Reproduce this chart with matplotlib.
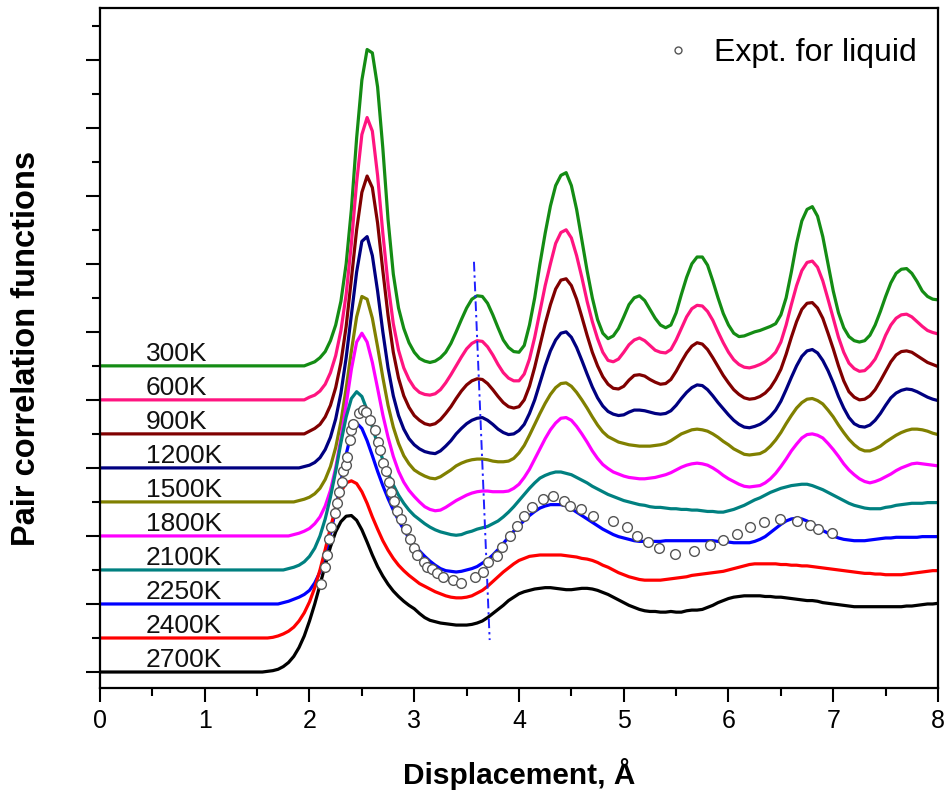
import matplotlib
matplotlib.use("Agg")
import matplotlib.pyplot as plt
from matplotlib.lines import Line2D
from matplotlib.ticker import MultipleLocator
import numpy as np

plt.rcParams['font.family'] = ['Liberation Sans', 'DejaVu Sans']

# r sampling: origin, then 1.50 ... 8.00 Angstrom every 0.05
r = [0.0] + [round(1.5 + 0.05 * i, 2) for i in range(131)]

temperatures = ['300K', '600K', '900K', '1200K', '1500K',
                '1800K', '2100K', '2250K', '2400K', '2700K']
offsets = [4.5, 4.0, 3.5, 3.0, 2.5, 2.0, 1.5, 1.0, 0.5, 0.0]
colors = ['#148c14', '#ff1480', '#800000', '#000080', '#808000',
          '#ff00ff', '#008080', '#0000ff', '#ff0000', '#000000']

# g(r) for each temperature: value at r=0, then 1.50-3.00, then 3.05-8.00
g_300 = ([0] + [0] * 10 +
         [0.03, 0.06, 0.12, 0.21, 0.37, 0.6, 0.95, 1.5, 2.3, 3.35,
          4.2, 4.65, 4.6, 4.1, 3.2, 2.15, 1.35, 0.85, 0.55, 0.34, 0.2] +
         [0.11, 0.07, 0.05, 0.07, 0.12, 0.2, 0.33, 0.5, 0.68, 0.85,
          0.98, 1.03, 1.02, 0.92, 0.75, 0.56, 0.38, 0.27, 0.21, 0.2,
          0.3, 0.6, 1.0, 1.5, 1.95, 2.35, 2.65, 2.8, 2.84, 2.65,
          2.3, 1.85, 1.4, 1.0, 0.68, 0.48, 0.4, 0.44, 0.55, 0.72,
          0.9, 1.0, 1.03, 0.96, 0.83, 0.7, 0.6, 0.56, 0.6, 0.78,
          1.05, 1.3, 1.5, 1.6, 1.6, 1.48, 1.25, 1.0, 0.77, 0.6,
          0.48, 0.43, 0.44, 0.47, 0.5, 0.52, 0.55, 0.58, 0.62, 0.75,
          1.0, 1.38, 1.8, 2.13, 2.3, 2.34, 2.2, 1.9, 1.5, 1.1,
          0.78, 0.56, 0.43, 0.37, 0.35, 0.37, 0.45, 0.6, 0.8, 1.02,
          1.22, 1.36, 1.42, 1.43, 1.36, 1.24, 1.1, 1.02, 0.98, 0.97])
g_600 = ([0] + [0] * 10 +
         [0.04, 0.07, 0.13, 0.23, 0.4, 0.65, 1.02, 1.55, 2.3, 3.2,
          3.9, 4.15, 3.95, 3.3, 2.45, 1.7, 1.12, 0.73, 0.47, 0.3, 0.18] +
         [0.11, 0.08, 0.07, 0.09, 0.15, 0.25, 0.37, 0.5, 0.63, 0.75,
          0.83, 0.87, 0.86, 0.78, 0.66, 0.52, 0.4, 0.32, 0.28, 0.28,
          0.38, 0.6, 0.92, 1.3, 1.68, 2.0, 2.3, 2.46, 2.5, 2.38,
          2.12, 1.8, 1.45, 1.15, 0.9, 0.7, 0.58, 0.56, 0.6, 0.7,
          0.81, 0.88, 0.91, 0.87, 0.8, 0.73, 0.7, 0.69, 0.74, 0.88,
          1.05, 1.22, 1.34, 1.39, 1.38, 1.3, 1.17, 1.0, 0.84, 0.7,
          0.59, 0.52, 0.48, 0.47, 0.49, 0.52, 0.56, 0.62, 0.7, 0.85,
          1.1, 1.4, 1.68, 1.9, 2.02, 2.04, 1.95, 1.75, 1.48, 1.2,
          0.92, 0.7, 0.54, 0.46, 0.42, 0.43, 0.5, 0.6, 0.76, 0.95,
          1.1, 1.2, 1.25, 1.26, 1.22, 1.15, 1.08, 1.02, 0.99, 0.97])
g_900 = ([0] + [0] * 10 +
         [0.04, 0.08, 0.14, 0.25, 0.42, 0.68, 1.05, 1.58, 2.28, 3.0,
          3.55, 3.79, 3.62, 3.1, 2.4, 1.74, 1.2, 0.82, 0.56, 0.39, 0.27] +
         [0.2, 0.15, 0.13, 0.15, 0.21, 0.3, 0.4, 0.52, 0.63, 0.72,
          0.78, 0.81, 0.8, 0.74, 0.65, 0.55, 0.46, 0.4, 0.38, 0.4,
          0.5, 0.7, 0.98, 1.3, 1.62, 1.9, 2.13, 2.26, 2.28, 2.18,
          1.98, 1.72, 1.45, 1.2, 1.0, 0.84, 0.73, 0.67, 0.66, 0.7,
          0.79, 0.86, 0.87, 0.85, 0.8, 0.76, 0.73, 0.74, 0.8, 0.92,
          1.06, 1.19, 1.29, 1.34, 1.32, 1.24, 1.12, 0.99, 0.86, 0.75,
          0.65, 0.58, 0.53, 0.51, 0.52, 0.55, 0.6, 0.68, 0.8, 0.95,
          1.17, 1.42, 1.65, 1.83, 1.92, 1.93, 1.85, 1.7, 1.48, 1.25,
          1.0, 0.78, 0.62, 0.54, 0.5, 0.51, 0.56, 0.65, 0.78, 0.92,
          1.06, 1.16, 1.21, 1.22, 1.2, 1.15, 1.1, 1.05, 1.02, 0.99])
g_1200 = ([0] + [0] * 9 + [0.02] +
          [0.04, 0.08, 0.15, 0.27, 0.45, 0.72, 1.1, 1.62, 2.25, 2.88,
           3.33, 3.4, 3.12, 2.6, 2.0, 1.47, 1.06, 0.77, 0.57, 0.43, 0.34] +
          [0.28, 0.24, 0.22, 0.21, 0.25, 0.32, 0.4, 0.5, 0.58, 0.65,
           0.7, 0.73, 0.74, 0.7, 0.64, 0.57, 0.52, 0.49, 0.5, 0.55,
           0.64, 0.8, 1.0, 1.25, 1.5, 1.72, 1.88, 1.98, 2.0, 1.92,
           1.77, 1.58, 1.38, 1.19, 1.03, 0.91, 0.83, 0.79, 0.77, 0.78,
           0.82, 0.85, 0.85, 0.84, 0.82, 0.8, 0.79, 0.8, 0.84, 0.92,
           1.02, 1.11, 1.18, 1.22, 1.21, 1.15, 1.06, 0.96, 0.87, 0.78,
           0.7, 0.64, 0.6, 0.59, 0.61, 0.64, 0.69, 0.76, 0.85, 0.98,
           1.15, 1.33, 1.5, 1.64, 1.72, 1.74, 1.69, 1.58, 1.43, 1.25,
           1.05, 0.88, 0.74, 0.65, 0.61, 0.6, 0.63, 0.7, 0.8, 0.92,
           1.03, 1.1, 1.14, 1.16, 1.15, 1.12, 1.08, 1.04, 1.01, 0.99])
g_1500 = ([0] + [0] * 8 + [0.02, 0.04] +
          [0.07, 0.12, 0.2, 0.33, 0.52, 0.8, 1.18, 1.67, 2.22, 2.72,
           3.02, 2.98, 2.7, 2.28, 1.83, 1.42, 1.1, 0.86, 0.68, 0.56, 0.47] +
          [0.42, 0.38, 0.35, 0.34, 0.37, 0.42, 0.47, 0.53, 0.57, 0.6,
           0.62, 0.63, 0.63, 0.62, 0.6, 0.59, 0.59, 0.6, 0.64, 0.72,
           0.83, 0.98, 1.14, 1.3, 1.45, 1.58, 1.68, 1.74, 1.75, 1.7,
           1.61, 1.5, 1.38, 1.25, 1.13, 1.03, 0.96, 0.92, 0.88, 0.86,
           0.84, 0.83, 0.82, 0.82, 0.82, 0.83, 0.84, 0.86, 0.9, 0.95,
           1.0, 1.03, 1.06, 1.07, 1.06, 1.04, 1.0, 0.95, 0.89, 0.84,
           0.78, 0.74, 0.7, 0.69, 0.7, 0.71, 0.75, 0.82, 0.91, 1.02,
           1.15, 1.27, 1.38, 1.46, 1.51, 1.52, 1.49, 1.44, 1.35, 1.25,
           1.13, 1.02, 0.92, 0.84, 0.78, 0.75, 0.75, 0.78, 0.82, 0.88,
           0.93, 0.98, 1.02, 1.05, 1.07, 1.07, 1.06, 1.04, 1.01, 0.99])
g_1800 = ([0] + [0] * 7 + [0.02, 0.04, 0.07] +
          [0.11, 0.18, 0.28, 0.44, 0.67, 1.0, 1.43, 1.93, 2.45, 2.85,
           2.98, 2.85, 2.55, 2.17, 1.78, 1.45, 1.17, 0.95, 0.79, 0.67, 0.58] +
          [0.5, 0.43, 0.39, 0.37, 0.38, 0.42, 0.47, 0.52, 0.56, 0.6,
           0.63, 0.65, 0.66, 0.66, 0.65, 0.65, 0.65, 0.66, 0.7, 0.76,
           0.86, 0.98, 1.13, 1.28, 1.43, 1.56, 1.66, 1.73, 1.74, 1.7,
           1.61, 1.5, 1.38, 1.25, 1.14, 1.05, 0.99, 0.94, 0.91, 0.88,
           0.86, 0.85, 0.84, 0.84, 0.85, 0.86, 0.88, 0.9, 0.93, 0.97,
           1.01, 1.04, 1.06, 1.07, 1.06, 1.04, 1.0, 0.95, 0.89, 0.84,
           0.8, 0.76, 0.73, 0.72, 0.73, 0.74, 0.78, 0.84, 0.92, 1.02,
           1.13, 1.25, 1.35, 1.44, 1.49, 1.5, 1.48, 1.44, 1.36, 1.27,
           1.17, 1.06, 0.97, 0.9, 0.84, 0.8, 0.78, 0.8, 0.83, 0.87,
           0.91, 0.96, 1.0, 1.03, 1.06, 1.07, 1.06, 1.05, 1.04, 1.03])
g_2100 = ([0] + [0] * 6 + [0.02, 0.04, 0.07, 0.12] +
          [0.2, 0.32, 0.5, 0.75, 1.07, 1.45, 1.87, 2.25, 2.52, 2.62,
           2.55, 2.35, 2.1, 1.85, 1.62, 1.42, 1.25, 1.1, 0.98, 0.88, 0.8] +
          [0.74, 0.68, 0.63, 0.59, 0.56, 0.54, 0.52, 0.51, 0.52, 0.55,
           0.57, 0.6, 0.62, 0.64, 0.68, 0.72, 0.78, 0.85, 0.93, 1.02,
           1.11, 1.2, 1.28, 1.35, 1.39, 1.42, 1.44, 1.44, 1.42, 1.4,
           1.36, 1.32, 1.28, 1.23, 1.19, 1.15, 1.11, 1.08, 1.05, 1.02,
           1.0, 0.98, 0.96, 0.95, 0.93, 0.92, 0.92, 0.91, 0.9, 0.9,
           0.89, 0.89, 0.88, 0.88, 0.87, 0.86, 0.86, 0.85, 0.85, 0.87,
           0.89, 0.92, 0.95, 0.99, 1.03, 1.06, 1.1, 1.14, 1.17, 1.2,
           1.22, 1.24, 1.25, 1.26, 1.26, 1.24, 1.21, 1.18, 1.14, 1.1,
           1.06, 1.02, 0.98, 0.95, 0.93, 0.91, 0.9, 0.9, 0.9, 0.92,
           0.93, 0.95, 0.96, 0.97, 0.98, 0.98, 0.98, 0.99, 0.99, 0.99])
g_2250 = ([0] + [0] * 5 + [0.02, 0.04, 0.07, 0.1, 0.14] +
          [0.2, 0.31, 0.47, 0.7, 1.02, 1.4, 1.8, 2.2, 2.52, 2.66,
           2.58, 2.4, 2.18, 1.95, 1.74, 1.55, 1.38, 1.23, 1.09, 0.97, 0.87] +
          [0.78, 0.7, 0.63, 0.57, 0.52, 0.49, 0.48, 0.47, 0.48, 0.5,
           0.52, 0.55, 0.6, 0.65, 0.72, 0.8, 0.89, 0.98, 1.07, 1.15,
           1.23, 1.3, 1.36, 1.41, 1.44, 1.46, 1.46, 1.46, 1.44, 1.4,
           1.35, 1.3, 1.25, 1.2, 1.15, 1.1, 1.06, 1.02, 0.99, 0.97,
           0.95, 0.93, 0.92, 0.92, 0.92, 0.92, 0.92, 0.93, 0.93, 0.93,
           0.93, 0.93, 0.93, 0.93, 0.93, 0.93, 0.93, 0.92, 0.92, 0.91,
           0.9, 0.9, 0.9, 0.9, 0.92, 0.95, 0.99, 1.05, 1.11, 1.17,
           1.22, 1.25, 1.26, 1.25, 1.22, 1.18, 1.13, 1.08, 1.04, 1.0,
           0.97, 0.95, 0.94, 0.93, 0.93, 0.93, 0.94, 0.95, 0.96, 0.97,
           0.97, 0.98, 0.98, 0.98, 0.98, 0.98, 0.99, 0.99, 0.99, 0.99])
g_2400 = ([0] + [0] * 3 + [0.01, 0.03, 0.06, 0.1, 0.16, 0.25, 0.37] +
          [0.53, 0.74, 1.0, 1.3, 1.62, 1.92, 2.15, 2.28, 2.31, 2.27,
           2.15, 1.98, 1.78, 1.6, 1.43, 1.29, 1.17, 1.07, 0.99, 0.92, 0.86] +
          [0.8, 0.76, 0.72, 0.68, 0.65, 0.62, 0.6, 0.59, 0.59, 0.6,
           0.62, 0.66, 0.7, 0.76, 0.83, 0.9, 0.97, 1.03, 1.09, 1.14,
           1.17, 1.2, 1.21, 1.22, 1.22, 1.22, 1.22, 1.22, 1.21, 1.2,
           1.19, 1.17, 1.16, 1.14, 1.11, 1.07, 1.04, 1.0, 0.96, 0.93,
           0.9, 0.88, 0.86, 0.85, 0.85, 0.85, 0.85, 0.86, 0.87, 0.88,
           0.89, 0.9, 0.92, 0.93, 0.94, 0.95, 0.96, 0.97, 0.98, 1.0,
           1.02, 1.04, 1.06, 1.08, 1.09, 1.09, 1.09, 1.09, 1.09, 1.08,
           1.08, 1.07, 1.07, 1.06, 1.06, 1.05, 1.04, 1.03, 1.02, 1.01,
           1.0, 0.99, 0.98, 0.97, 0.96, 0.95, 0.95, 0.94, 0.94, 0.93,
           0.93, 0.93, 0.93, 0.94, 0.95, 0.96, 0.97, 0.98, 0.99, 0.99])
g_2700 = ([0] + [0] * 2 + [0.01, 0.02, 0.04, 0.08, 0.14, 0.23, 0.36, 0.53] +
          [0.75, 1.0, 1.28, 1.57, 1.84, 2.06, 2.21, 2.29, 2.3, 2.23,
           2.09, 1.91, 1.72, 1.55, 1.41, 1.29, 1.19, 1.11, 1.04, 0.98, 0.93] +
          [0.86, 0.8, 0.76, 0.74, 0.72, 0.71, 0.7, 0.69, 0.69, 0.69,
           0.7, 0.72, 0.75, 0.8, 0.86, 0.92, 0.98, 1.05, 1.1, 1.15,
           1.18, 1.2, 1.22, 1.23, 1.24, 1.24, 1.23, 1.22, 1.21, 1.21,
           1.22, 1.23, 1.23, 1.22, 1.2, 1.17, 1.14, 1.1, 1.06, 1.02,
           0.98, 0.95, 0.92, 0.9, 0.89, 0.89, 0.88, 0.88, 0.89, 0.88,
           0.88, 0.9, 0.91, 0.91, 0.92, 0.95, 0.98, 1.02, 1.05, 1.08,
           1.1, 1.11, 1.12, 1.12, 1.12, 1.12, 1.11, 1.11, 1.1, 1.1,
           1.09, 1.08, 1.07, 1.06, 1.05, 1.05, 1.04, 1.02, 1.01, 1.0,
           0.99, 0.98, 0.97, 0.96, 0.96, 0.96, 0.96, 0.96, 0.96, 0.96,
           0.96, 0.96, 0.96, 0.97, 0.97, 0.98, 0.99, 1.0, 1.0, 1.01])

series = [g_300, g_600, g_900, g_1200, g_1500,
          g_1800, g_2100, g_2250, g_2400, g_2700]

# Experimental liquid data, shown on the 2250K baseline
expt_r = [2.11, 2.15, 2.17, 2.19, 2.21, 2.24, 2.26, 2.28, 2.31, 2.32,
          2.35, 2.36, 2.39, 2.40, 2.42, 2.47, 2.51, 2.54, 2.58, 2.63,
          2.65, 2.67, 2.70, 2.73, 2.76, 2.78, 2.81, 2.84, 2.87, 2.92,
          2.96, 3.00, 3.03, 3.09, 3.12, 3.17, 3.22, 3.27, 3.37, 3.45,
          3.58, 3.66, 3.70, 3.79, 3.84, 3.91, 3.98, 4.05, 4.12, 4.23,
          4.32, 4.43, 4.49, 4.59, 4.71, 4.90, 5.03, 5.13, 5.23, 5.34,
          5.49, 5.67, 5.82, 5.95, 6.08, 6.21, 6.34, 6.49, 6.65, 6.78,
          6.85, 6.99]
expt_g = [0.30, 0.55, 0.72, 0.95, 1.13, 1.34, 1.48, 1.65, 1.80, 1.95,
          2.04, 2.16, 2.41, 2.56, 2.65, 2.80, 2.85, 2.82, 2.71, 2.56,
          2.38, 2.26, 2.07, 1.95, 1.80, 1.65, 1.52, 1.37, 1.25, 1.10,
          0.96, 0.82, 0.72, 0.61, 0.55, 0.52, 0.46, 0.40, 0.35, 0.31,
          0.40, 0.47, 0.62, 0.71, 0.84, 1.0, 1.15, 1.29, 1.43, 1.54,
          1.59, 1.51, 1.44, 1.40, 1.29, 1.22, 1.13, 1.0, 0.91, 0.82,
          0.74, 0.78, 0.87, 0.94, 1.03, 1.13, 1.21, 1.25, 1.22, 1.16,
          1.10, 1.04]
expt_offset = 1.0

# Guide line through the second-peak positions
guide_r = [3.57, 3.72]
guide_y = [6.03, 0.47]

for name, s in zip(temperatures, series):
    if len(s) != len(r):
        raise ValueError(f"{name}: {len(s)} values for {len(r)} r points")
if len(expt_r) != len(expt_g):
    raise ValueError("experimental arrays differ in length")

fig = plt.figure(figsize=(9.45, 7.9), dpi=100)
ax = fig.add_axes([100 / 945, 1 - 688 / 790, 838 / 945, 680 / 790])

r_arr = np.array(r)
for name, s, off, c in zip(temperatures, series, offsets, colors):
    ax.plot(r_arr, np.array(s) + off, color=c, lw=2.3,
            solid_joinstyle='round', zorder=2)
    ax.text(0.44, off + 0.07, name, fontsize=19, ha='left', va='baseline',
            color='#111111', zorder=3)

ax.plot(guide_r, guide_y, color='#1f1fff', lw=1.4,
        linestyle=(0, (5, 2, 1.2, 2)), zorder=3)

ax.plot(expt_r, np.array(expt_g) + expt_offset, linestyle='none', marker='o',
        markersize=7, markerfacecolor='white', markeredgecolor='#555555',
        markeredgewidth=1.0, zorder=4)

handle = Line2D([], [], linestyle='none', marker='o', markersize=5,
                markerfacecolor='white', markeredgecolor='#555555',
                markeredgewidth=1.0)
ax.legend([handle], ['Expt. for liquid'], loc='center left',
          bbox_to_anchor=((662 - 100) / 838, (688 - 53) / 680),
          frameon=False, fontsize=23, handlelength=1.0, handletextpad=0.62,
          borderpad=0, borderaxespad=0)

ax.set_xlim(0, 8)
ax.set_ylim(-0.235, 9.76)
ax.xaxis.set_major_locator(MultipleLocator(1))
ax.xaxis.set_minor_locator(MultipleLocator(0.5))
ax.yaxis.set_major_locator(MultipleLocator(1))
ax.yaxis.set_minor_locator(MultipleLocator(0.5))
ax.tick_params(axis='both', which='major', direction='out', length=10,
               width=1.5, labelsize=18, pad=5)
ax.tick_params(axis='both', which='minor', direction='out', length=5.5,
               width=1.5)
ax.tick_params(axis='y', which='both', labelleft=False)
for sp in ax.spines.values():
    sp.set_linewidth(1.6)

ax.set_xlabel('Displacement, Å', fontsize=21.5, fontweight='bold')
ax.set_ylabel('Pair correlation functions', fontsize=23.5, fontweight='bold')
ax.xaxis.set_label_coords(0.5, -0.103)
ax.yaxis.set_label_coords(-0.069, 0.5)

fig.savefig('out.png', dpi=100)
